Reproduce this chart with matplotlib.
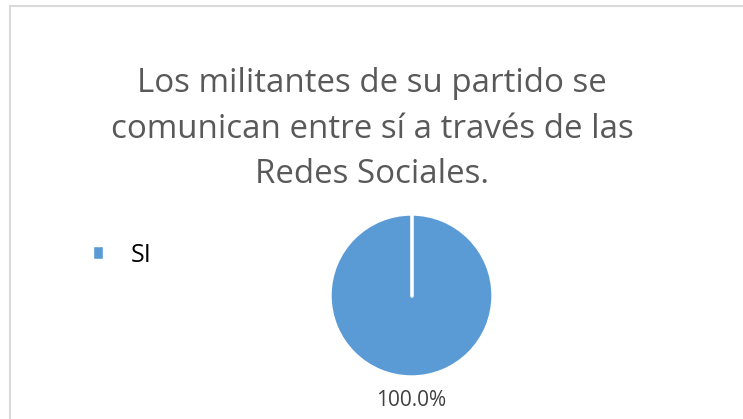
import matplotlib
matplotlib.use("Agg")
import numpy as np
import matplotlib.pyplot as plt
from matplotlib.patches import Rectangle

# chart data
categories = ["SI"]
values = [100.0]
title_lines = ["Los militantes de su partido se",
               "comunican entre sí a través de las",
               "Redes Sociales."]

W, H = 743, 419
fig = plt.figure(figsize=(W / 100, H / 100), dpi=100)
fig.patch.set_facecolor("white")

# chart area border (only left/top visible in the reference)
fig.add_artist(Rectangle((9.5 / W, -0.1), 1.2, (H - 6.5) / H + 0.1, transform=fig.transFigure,
                         fill=False, edgecolor="#d9d9d9", linewidth=1.5))

for i, line in enumerate(title_lines):
    fig.text(372 / W, 1 - (92 + 45.5 * i) / H, line, ha="center", va="baseline",
             fontsize=23.8, family="Open Sans", color="#595959")

cx, cy, r = 411.5, 295.5, 80.5
ax = fig.add_axes([(cx - r) / W, (H - cy - r) / H, 2 * r / W, 2 * r / H])
wedges, texts, autotexts = ax.pie(
    values, colors=["#5b9bd5"], startangle=90, counterclock=False,
    autopct="%1.1f%%", pctdistance=1.30,
    wedgeprops=dict(edgecolor="white", linewidth=1),
    textprops=dict(fontsize=15, family="Open Sans", color="#404040"))
# a single 100% slice still shows its white edge from the centre to the top
for w in wedges:
    a = np.deg2rad(w.theta1)
    ax.plot([0, 0.99 * np.cos(a)], [0, 0.99 * np.sin(a)], color="white", lw=2.6,
            solid_capstyle="round")
ax.set_xlim(-1, 1)
ax.set_ylim(-1, 1)
ax.set_aspect("equal")
ax.axis("off")

fig.legend(wedges, categories, loc="center left", bbox_to_anchor=(93 / W, 1 - 255 / H),
           frameon=False, borderpad=0, borderaxespad=0,
           handlelength=0.4, handleheight=0.4, handletextpad=1.1,
           prop=dict(family="Open Sans", size=18))

fig.savefig("out.png", dpi=100)
